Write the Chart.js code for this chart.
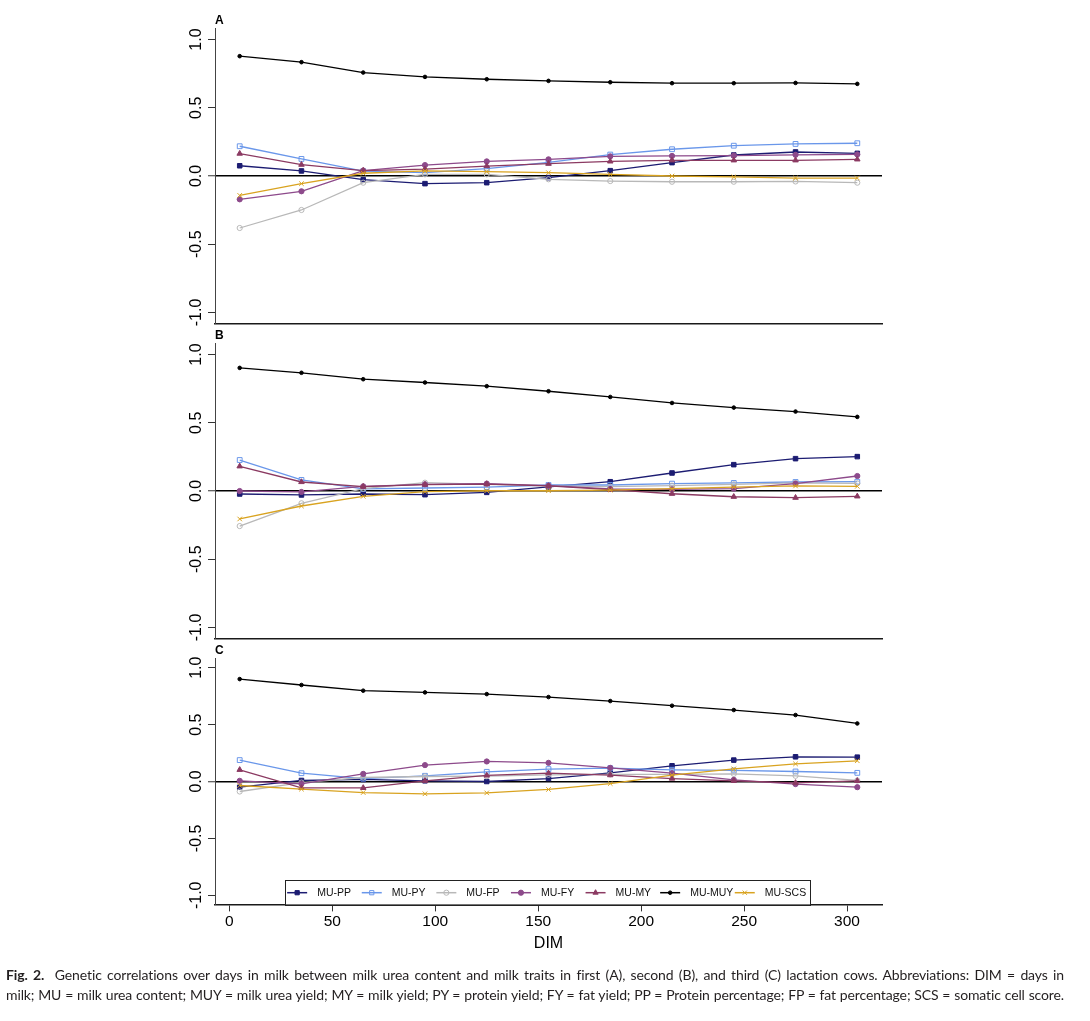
<!DOCTYPE html>
<html>
<head>
<meta charset="utf-8">
<script src="https://cdn.jsdelivr.net/npm/chart.js@4.4.1/dist/chart.umd.min.js"></script>
<style>
html,body{margin:0;padding:0;background:#fff;}
#wrap{position:relative;width:1090px;height:1021px;overflow:hidden;background:#fff;}
.cv{position:absolute;left:0;top:0;width:1090px;height:960px;}
.pl{position:absolute;left:215px;font:bold 12px "Liberation Sans",Arial,sans-serif;line-height:12px;color:#000;}
#cap{position:absolute;left:6px;top:965px;width:1058px;font:14px Lato,"Noto Sans",sans-serif;letter-spacing:-0.12px;color:#231f20;}
#cap div{line-height:20px;text-align:justify;text-align-last:justify;white-space:nowrap;}
#cap b{font-weight:bold;}
</style>
</head>
<body>
<div id="wrap">
  <div class="cv"><canvas id="cA" width="1090" height="960"></canvas></div>
  <div class="cv"><canvas id="cB" width="1090" height="960"></canvas></div>
  <div class="cv"><canvas id="cC" width="1090" height="960"></canvas></div>
  <div class="pl" style="top:14px">A</div>
  <div class="pl" style="top:329px">B</div>
  <div class="pl" style="top:643.5px">C</div>
  <div id="cap">
    <div><b>Fig. 2.</b>&nbsp; Genetic correlations over days in milk between milk urea content and milk traits in first (A), second (B), and third (C) lactation cows. Abbreviations: DIM = days in</div>
    <div>milk; MU = milk urea content; MUY = milk urea yield; MY = milk yield; PY = protein yield; FY = fat yield; PP = Protein percentage; FP = fat percentage; SCS = somatic cell score.</div>
  </div>
</div>
<script>
// ---------------- DATA ----------------
const dim = [5, 35, 65, 95, 125, 155, 185, 215, 245, 275, 305];
const xTicks = [0, 50, 100, 150, 200, 250, 300];
const yTicks = [-1, -0.5, 0, 0.5, 1];
const seriesNames = ['MU-PP', 'MU-PY', 'MU-FP', 'MU-FY', 'MU-MY', 'MU-MUY', 'MU-SCS'];

// Panel A (first lactation)
const A_PP  = [0.075, 0.037, -0.027, -0.056, -0.049, -0.012, 0.039, 0.098, 0.154, 0.176, 0.166];
const A_PY  = [0.218, 0.125, 0.035, 0.025, 0.054, 0.100, 0.157, 0.196, 0.222, 0.235, 0.240];
const A_FP  = [-0.381, -0.249, -0.049, 0.012, 0.012, -0.024, -0.037, -0.042, -0.042, -0.040, -0.049];
const A_FY  = [-0.171, -0.112, 0.040, 0.080, 0.107, 0.122, 0.144, 0.147, 0.150, 0.155, 0.158];
const A_MY  = [0.164, 0.083, 0.040, 0.050, 0.073, 0.090, 0.107, 0.115, 0.115, 0.115, 0.122];
const A_MUY = [0.878, 0.834, 0.758, 0.726, 0.709, 0.697, 0.687, 0.680, 0.680, 0.682, 0.675];
const A_SCS = [-0.142, -0.056, 0.020, 0.037, 0.032, 0.024, 0.012, 0.000, -0.007, -0.015, -0.015];

// Panel B (second lactation)
const B_PP  = [-0.022, -0.029, -0.022, -0.027, -0.010, 0.030, 0.068, 0.132, 0.193, 0.237, 0.252];
const B_PY  = [0.227, 0.081, 0.015, 0.022, 0.029, 0.044, 0.044, 0.054, 0.059, 0.066, 0.068];
const B_FP  = [-0.257, -0.090, 0.017, 0.061, 0.049, 0.037, 0.032, 0.039, 0.049, 0.059, 0.056];
const B_FY  = [0.000, -0.007, 0.034, 0.049, 0.054, 0.039, 0.015, 0.012, 0.017, 0.054, 0.110];
const B_MY  = [0.181, 0.066, 0.032, 0.046, 0.051, 0.037, 0.010, -0.020, -0.042, -0.049, -0.039];
const B_MUY = [0.902, 0.866, 0.819, 0.795, 0.768, 0.731, 0.689, 0.645, 0.611, 0.582, 0.543];
const B_SCS = [-0.205, -0.110, -0.039, -0.005, 0.002, 0.002, 0.007, 0.017, 0.029, 0.037, 0.034];

// Panel C (third lactation)
const C_PP  = [-0.050, 0.009, 0.018, 0.006, 0.000, 0.026, 0.076, 0.138, 0.188, 0.217, 0.214];
const C_PY  = [0.188, 0.073, 0.026, 0.050, 0.085, 0.109, 0.117, 0.103, 0.097, 0.088, 0.076];
const C_FP  = [-0.088, -0.009, 0.035, 0.044, 0.047, 0.059, 0.062, 0.062, 0.067, 0.050, 0.009];
const C_FY  = [0.006, -0.020, 0.067, 0.144, 0.176, 0.164, 0.120, 0.073, 0.015, -0.023, -0.050];
const C_MY  = [0.103, -0.056, -0.056, 0.006, 0.053, 0.073, 0.056, 0.026, 0.006, -0.012, 0.006];
const C_MUY = [0.900, 0.848, 0.798, 0.783, 0.768, 0.742, 0.707, 0.666, 0.628, 0.584, 0.510];
const C_SCS = [-0.035, -0.067, -0.097, -0.108, -0.100, -0.070, -0.018, 0.056, 0.111, 0.155, 0.182];

// ---------------- STYLES ----------------
const seriesStyle = [
  {color: '#1c1c72', pointStyle: 'rect',     radius: 3.2, filled: true},
  {color: '#6a97ea', pointStyle: 'rect',     radius: 3.4, filled: false},
  {color: '#b8b8b8', pointStyle: 'circle',   radius: 2.6, filled: false},
  {color: '#8d4a8b', pointStyle: 'circle',   radius: 2.6, filled: true},
  {color: '#8b3a62', pointStyle: 'triangle', radius: 3.2, filled: true},
  {color: '#000000', pointStyle: 'circle',   radius: 1.8, filled: true},
  {color: '#d9a320', pointStyle: 'crossRot', radius: 3.2, filled: false}
];

const FONT = '"Liberation Sans", Arial, Helvetica, sans-serif';
const CANVAS_H = 960;
const PLOT_LEFT = 215, PLOT_RIGHT = 882;

function buildDatasets(valuesList) {
  return seriesNames.map((name, i) => {
    const st = seriesStyle[i];
    return {
      label: name,
      data: dim.map((d, j) => ({x: d, y: valuesList[i][j]})),
      borderColor: st.color,
      backgroundColor: st.filled ? st.color : 'rgba(255,255,255,0)',
      pointBackgroundColor: st.filled ? st.color : 'rgba(255,255,255,0)',
      pointBorderColor: st.color,
      pointStyle: st.pointStyle,
      pointRadius: st.radius,
      pointBorderWidth: 1,
      borderWidth: 1.3,
      tension: 0,
      fill: false,
      order: seriesNames.length - i
    };
  });
}

const boxLegend = {
  id: 'boxLegend',
  afterDraw(chart, args, opts) {
    if (!opts || !opts.show) return;
    const ctx = chart.ctx, ca = chart.chartArea;
    const boxW = 525.3, boxH = 24.7;
    const cx = (ca.left + ca.right) / 2 - 1;
    const bx = cx - boxW / 2, by = ca.bottom - boxH;
    ctx.save();
    ctx.fillStyle = '#fff';
    ctx.fillRect(bx, by, boxW, boxH);
    ctx.strokeStyle = '#222';
    ctx.lineWidth = 1;
    ctx.strokeRect(Math.round(bx) + 0.5, Math.round(by) + 0.5, Math.round(boxW), Math.round(boxH));
    const ly = by + 13;
    chart.data.datasets.forEach((ds, i) => {
      const x0 = bx + 2.3 + 74.6 * i;
      ctx.strokeStyle = ds.borderColor;
      ctx.lineWidth = 1.5;
      ctx.beginPath();
      ctx.moveTo(x0, ly);
      ctx.lineTo(x0 + 20, ly);
      ctx.stroke();
      ctx.fillStyle = ds.pointBackgroundColor;
      ctx.strokeStyle = ds.borderColor;
      ctx.lineWidth = 1;
      const r = Math.min(ds.pointRadius, 3);
      if (Chart.helpers && Chart.helpers.drawPoint) {
        Chart.helpers.drawPoint(ctx, {pointStyle: ds.pointStyle, radius: r, borderWidth: 1, rotation: 0}, x0 + 10, ly);
      }
      ctx.fillStyle = '#111';
      ctx.font = '10.5px ' + FONT;
      ctx.textAlign = 'left';
      ctx.textBaseline = 'middle';
      ctx.fillText(ds.label, x0 + 30, ly);
    });
    ctx.restore();
  }
};

function makePanel(canvasId, valuesList, plotTop, plotBottom, isLast) {
  const xH = isLast ? CANVAS_H - plotBottom : 0;
  return new Chart(document.getElementById(canvasId), {
    type: 'line',
    data: {datasets: buildDatasets(valuesList)},
    plugins: [boxLegend],
    options: {
      responsive: false,
      animation: false,
      devicePixelRatio: 1,
      events: [],
      layout: {padding: {left: 0, right: 1090 - PLOT_RIGHT, top: plotTop, bottom: isLast ? 0 : CANVAS_H - plotBottom}},
      plugins: {
        legend: {display: false},
        tooltip: {enabled: false},
        boxLegend: {show: isLast}
      },
      scales: {
        x: {
          type: 'linear',
          min: -7, max: 317,
          afterBuildTicks: s => { s.ticks = xTicks.map(v => ({value: v})); },
          afterFit: s => { s.height = xH; },
          ticks: {display: isLast, color: '#000', font: {family: FONT, size: 15.5}, padding: 1, maxRotation: 0, minRotation: 0, autoSkip: false},
          grid: {display: true, drawOnChartArea: false, drawTicks: isLast, tickLength: 7, tickColor: '#333', tickWidth: 1, color: '#333', lineWidth: 1},
          border: {display: true, color: '#1a1a1a', width: 1.5},
          title: {display: isLast, text: 'DIM', color: '#000', font: {family: FONT, size: 16}, padding: {top: 0, bottom: 6.4}}
        },
        y: {
          type: 'linear',
          min: -1.08, max: 1.08,
          afterBuildTicks: s => { s.ticks = yTicks.map(v => ({value: v})); },
          afterFit: s => { s.width = PLOT_LEFT; },
          ticks: {color: '#000', font: {family: FONT, size: 16}, padding: -2, minRotation: 90, maxRotation: 90, crossAlign: 'center',
                  callback: v => Number(v).toFixed(1)},
          grid: {display: true, drawOnChartArea: true, drawTicks: true, tickLength: 7, tickColor: '#333', tickWidth: 1,
                 color: c => (c.tick && c.tick.value === 0) ? '#000' : 'rgba(0,0,0,0)',
                 lineWidth: c => (c.tick && c.tick.value === 0) ? 1.5 : 1},
          border: {display: true, color: '#444', width: 1}
        }
      }
    }
  });
}

makePanel('cA', [A_PP, A_PY, A_FP, A_FY, A_MY, A_MUY, A_SCS], 28.6, 323.4, false);
makePanel('cB', [B_PP, B_PY, B_FP, B_FY, B_MY, B_MUY, B_SCS], 343.6, 638.4, false);
makePanel('cC', [C_PP, C_PY, C_FP, C_FY, C_MY, C_MUY, C_SCS], 658.6, 904.4, true);
</script>
</body>
</html>
